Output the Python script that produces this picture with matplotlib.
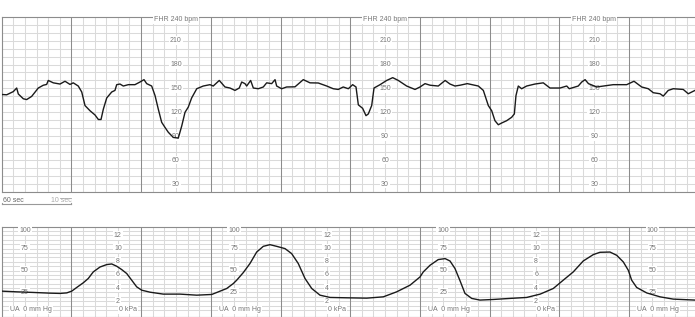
import matplotlib
matplotlib.use("Agg")
import matplotlib.pyplot as plt

plt.rcParams['font.family'] = ['Liberation Sans', 'DejaVu Sans']

# fetal heart rate trace (time in seconds, bpm)
fhr_t = [0, 4.3, 7.1, 10, 12.9, 14.3, 18.6, 21.5, 25.8, 31.5,
         35.8, 38.7, 40.1, 44.4, 50.2, 54.5, 58.8, 61.6, 65.9, 68.9,
         71.7, 76, 80.3, 83.2, 85.5, 87.5, 90.4, 94.7, 97.5, 99,
         101.8, 104.7, 109, 114.7, 119, 122.5, 124.8, 129.1, 132, 134.8,
         137.7, 140.6, 143.4, 147.7, 152, 155, 157.8, 160.6, 163.5, 167.9,
         173.5, 179.3, 182.1, 187.3, 192.2, 196.5, 200.8, 204.5, 206.6, 209.4,
         210.9, 214.3, 216.6, 220.9, 225.2, 228.1, 232.4, 235.3, 236.7, 241,
         245.3, 252.5, 259.6, 265.4, 272.5, 279.8, 285.4, 289.7, 294, 298.4,
         302.1, 305, 307, 310.7, 313.6, 315.6, 318.5, 320.5, 325.7, 331.4,
         336.6, 341.4, 348.6, 355.8, 360.1, 364.4, 368.8, 375.8, 381.7, 385.9,
         390.2, 394.5, 400.8, 410.3, 414.6, 418.9, 421.8, 424.6, 427.5, 430.4,
         434.7, 439, 441.3, 442.7, 444.7, 447.6, 451.9, 459.1, 466.2, 472,
         480.6, 486.4, 488.6, 496.3, 499.3, 502.2, 505.1, 512.2, 517.9, 526.4,
         538, 544.3, 550.9, 556.6, 560.9, 566.7, 569.5, 573.8, 578.1, 586.7,
         591, 596.8]
fhr_bpm = [142.4, 142, 144, 146, 150.5, 143, 137, 136, 140, 150.5,
           154, 155, 160, 157, 155.5, 159, 155, 157, 153, 145.5,
           128.5, 122, 116.7, 111, 111, 124, 138, 145.5, 147.5, 154.7,
           155.5, 153, 154.7, 154.7, 158, 161, 156, 153, 141, 124,
           107.5, 101, 95, 88.5, 87.6, 103, 120, 126.5, 138, 149.6,
           153, 154.7, 153, 160, 151.8, 150.5, 147.5, 150.5, 158, 156,
           153, 160, 150.5, 149.6, 151.8, 157, 156, 161, 153, 149.6,
           151.8, 152, 161, 157, 156.8, 153, 149.6, 148.7, 151.8, 149.6,
           154.7, 151.8, 129.4, 125, 115.8, 118, 128.5, 150.5, 154.7, 160,
           163.5, 160, 153, 148.7, 151.8, 156, 154, 153, 160, 155.5,
           153, 154, 156, 153, 147.5, 128.5, 122, 109.5, 104.4, 106.6,
           109.5, 113.8, 118, 141, 153, 149.6, 153, 155.5, 157, 150.5,
           150.5, 153, 149.6, 153, 158, 161, 156, 151.8, 153, 154.7,
           154.7, 159, 151.8, 149.6, 144.6, 143.3, 140.4, 147.5, 149.6, 148.7,
           143.3, 147.5]

# uterine activity trace (time in seconds, mm Hg)
ua_t = [0, 12.9, 27.2, 41.6, 50.2, 56, 60.3, 64.6, 70.2, 74.5,
        78.8, 84.6, 90.4, 94.7, 99, 103.3, 107.6, 111.9, 116.2, 120.5,
        127.7, 139.1, 153.5, 167.9, 180.8, 186.5, 193.7, 199.4, 202.3, 208,
        213.7, 219.5, 225.2, 230.9, 236.7, 243.9, 249.6, 255.3, 261.1, 266.9,
        274, 282.6, 297, 314.2, 328.5, 340, 351.5, 360.1, 362.9, 368.7,
        375.8, 381.7, 385.9, 390.2, 394.5, 398.8, 404.6, 411.7, 423.2, 437.5,
        451.9, 463.5, 474.8, 483.4, 492, 500.6, 509.3, 515, 523.6, 529.4,
        535.1, 539.4, 542.3, 546.6, 555.2, 566.7, 578.1, 596.8]
ua_mmhg = [26.5, 25.7, 25, 24.2, 23.9, 24.5, 26.5, 30.7, 36, 40.9,
           48.4, 54, 56.8, 57.5, 54.9, 51.1, 46.6, 39, 31.4, 27.6,
           25.3, 23.1, 23.1, 21.9, 22.7, 25.7, 29.5, 35.2, 39, 47.7,
           58, 71.1, 77.6, 79.5, 77.6, 75, 69.3, 58, 40.9, 29.5,
           21.9, 19.3, 18.9, 18.5, 20, 25.7, 33.3, 42.7, 48.4, 56,
           62.5, 63.6, 60.9, 52.3, 38.5, 23.9, 18.2, 16.3, 17, 18.2,
           19.3, 23.1, 29.5, 39, 48.4, 60.9, 68.2, 70.8, 71.1, 67.4,
           59.8, 50.3, 39, 30.7, 24.5, 20, 17.4, 16.3]

# scale labels
fhr_label_t = [150, 330, 510]
fhr_ticks = [210, 180, 150, 120, 90, 60, 30]
mmhg_label_t = [20, 200, 380, 560]
mmhg_ticks = [100, 75, 50, 25]
kpa_label_t = [100, 280, 460]
kpa_ticks = [12, 10, 8, 6, 4, 2]

W, H = 695, 317
LIGHT = '#dadada'
DARK = '#8c8c8c'
TXT = '#777777'

fig = plt.figure(figsize=(W / 100, H / 100), dpi=100)
ax1 = fig.add_axes([1.7 / W, 1 - 192 / H, 697 / W, 175.3 / H])
ax2 = fig.add_axes([1.7 / W, 0, 697 / W, 90.3 / H])


def paper(ax, ystep, ylim):
    ax.set_xlim(0, 600)
    ax.set_ylim(*ylim)
    for s in range(10, 600, 10):
        ax.axvline(s, color=DARK if s % 60 == 0 else LIGHT, lw=0.75, zorder=1)
    y = ystep
    while y < ylim[1]:
        ax.axhline(y, color=LIGHT, lw=0.75, zorder=0.9)
        y += ystep
    ax.set_xticks([])
    ax.set_yticks([])
    for k in ['top', 'left', 'bottom']:
        ax.spines[k].set_color(DARK)
        ax.spines[k].set_linewidth(0.8)
    ax.spines['right'].set_visible(False)


lbl = dict(color=TXT, fontsize=5, ha='center', va='center', zorder=3,
           bbox=dict(facecolor='white', edgecolor='none', pad=0.6))

paper(ax1, 10, (20, 240))
ax1.plot(fhr_t, fhr_bpm, color='#1a1a1a', lw=1.0, zorder=4)
for t in fhr_label_t:
    ax1.text(t, 236, 'FHR 240 bpm', **lbl)
    for v in fhr_ticks:
        ax1.text(t, v, str(v), **lbl)

# time scale under the FHR panel
tr = ax1.get_xaxis_transform()
ax1.plot([0, 60], [-0.07, -0.07], color='#999999', lw=0.8, transform=tr, clip_on=False)
ax1.plot([0, 0], [-0.07, -0.06], color='#999999', lw=0.8, transform=tr, clip_on=False)
ax1.plot([60, 60], [-0.07, -0.06], color='#999999', lw=0.8, transform=tr, clip_on=False)
ax1.text(1, -0.046, '60 sec', color='#666666', fontsize=5, ha='left', va='center', transform=tr)
ax1.plot([50, 60], [-0.032, -0.032], color='#bbbbbb', lw=0.7, transform=tr, clip_on=False)
ax1.text(60, -0.046, '10 sec', color='#aaaaaa', fontsize=5, ha='right', va='center', transform=tr)

paper(ax2, 5, (-3, 100))
ax2.plot(ua_t, ua_mmhg, color='#1a1a1a', lw=1.0, zorder=4)
for t in mmhg_label_t:
    ax2.text(t, 96, '100', **lbl)
    for v in mmhg_ticks[1:]:
        ax2.text(t, v, str(v), **lbl)
    ax2.text(t + 5, 5, 'UA  0 mm Hg', **lbl)
for t in kpa_label_t:
    for v in kpa_ticks:
        ax2.text(t, v * 7.5, str(v), **lbl)
    ax2.text(t + 8.5, 5, '0 kPa', **lbl)

fig.savefig('out.png', dpi=100)
